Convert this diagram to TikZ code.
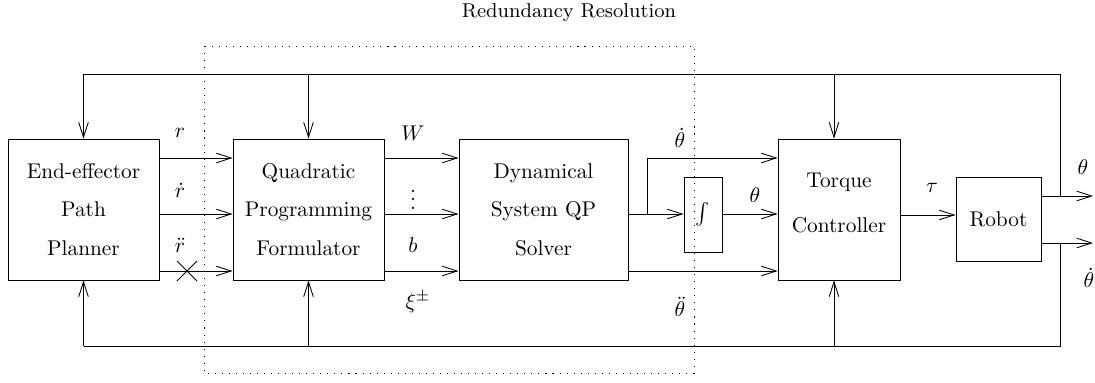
\documentclass[tikz,border=0pt]{standalone}
\usetikzlibrary{arrows.meta,shapes.misc}

\begin{document}
\begin{tikzpicture}[x=0.469pt, y=-0.469pt,
		>={Straight Barb[length=7pt,width=4.5pt]},
		block/.style={rectangle, draw=black, align=center, minimum height=66.1pt},
		sig/.style={inner sep=0pt}]
	\useasboundingbox (0,0) rectangle (1095,382);
	% redundancy resolution frame
	\node (title) at (569,13) [font=\fontsize{9.4pt}{11pt}\selectfont] {Redundancy Resolution};
	\draw [dash pattern=on 0.5pt off 2.8pt] (204,46) rectangle (694,373);
	% blocks
	\node (ee) at (83.5,209.5) [block, minimum width=70.8pt]
	{End-effector\\[6pt]Path\\[6pt]Planner};
	\node (qp) at (308.5,209.5) [block, minimum width=70.8pt]
	{Quadratic\\[6pt]Programming\\[6pt]Formulator};
	\node (ds) at (543.5,209.5) [block, minimum width=79.3pt]
	{Dynamical\\[6pt]System QP\\[6pt]Solver};
	\node (int) at (703,214.5) [rectangle, draw=black, minimum width=17.8pt,
	minimum height=35.2pt] {$\int$};
	\node (tc) at (839,209.5) [block, minimum width=57.2pt]
	{Torque\\[9pt]Controller\\[-6pt]\mbox{}};
	\node (robot) at (998.5,219) [rectangle, draw=black, minimum width=39.9pt,
	minimum height=39.4pt] {Robot};
	% planner -> formulator
	\draw [->] (ee.east |- 0,158) -- (qp.west |- 0,158);
	\draw [->] (ee.east |- 0,214) -- (qp.west |- 0,214);
	\draw [->] (ee.east |- 0,271) -- (qp.west |- 0,271);
	\node (cut) at (187,271) [cross out, draw=black, minimum size=9pt, inner sep=0pt] {};
	\node (lr) at (180,133) [sig] {$r$};
	\node (lrd) at (180,190) [sig] {$\dot{r}$};
	\node (lrdd) at (180,245) [sig] {$\ddot{r}$};
	% formulator -> solver
	\draw [->] (qp.east |- 0,158) -- (ds.west |- 0,158);
	\draw [->] (qp.east |- 0,214) -- (ds.west |- 0,214);
	\draw [->] (qp.east |- 0,271) -- (ds.west |- 0,271);
	\node (lw) at (413,133) [sig] {$W$};
	\node (ldots) at (413,193) [sig] {$\vdots$};
	\node (lb) at (413,245) [sig] {$b$};
	\node (lxi) at (418,302) [sig] {$\xi^{\pm}$};
	% solver -> controller
	\coordinate (split) at (647,214);
	\draw (ds.east |- split) -- (split);
	\draw [->] (split) -- (int.west |- split);
	\draw [->] (split) |- (tc.west |- 0,158);
	\draw [->] (int.east |- split) -- (tc.west |- split);
	\draw [->] (ds.east |- 0,271) -- (tc.west |- 0,271);
	\node (lthd) at (680,138) [sig] {$\dot{\theta}$};
	\node (lth) at (755,195) [sig] {$\theta$};
	\node (lthdd) at (680,307) [sig] {$\ddot{\theta}$};
	% controller -> robot
	\draw [->] (tc.east |- 0,215) -- (robot.west |- 0,215);
	\node (ltau) at (932,188) [sig] {$\tau$};
	% robot outputs
	\coordinate (tapA) at (1060,196);
	\coordinate (tapB) at (1060,243);
	\coordinate (outA) at (1093,196);
	\coordinate (outB) at (1093,243);
	\draw [->] (robot.east |- tapA) -- (outA);
	\draw [->] (robot.east |- tapB) -- (outB);
	\node (lout) at (1083,167) [sig] {$\theta$};
	\node (loutd) at (1089,278) [sig] {$\dot{\theta}$};
	% feedback
	\coordinate (top) at (1060,74);
	\coordinate (bot) at (1060,346);
	\draw (tapA) -- (top) -- (ee.north |- top);
	\draw (tapB) -- (bot) -- (ee.south |- bot);
	\draw [->] (ee.north |- top) -- (ee.north);
	\draw [->] (qp.north |- top) -- (qp.north);
	\draw [->] (834,74) -- (tc.north -| 834,0);
	\draw [->] (ee.south |- bot) -- (ee.south);
	\draw [->] (qp.south |- bot) -- (qp.south);
	\draw [->] (834,346) -- (tc.south -| 834,0);
\end{tikzpicture}
\end{document}
